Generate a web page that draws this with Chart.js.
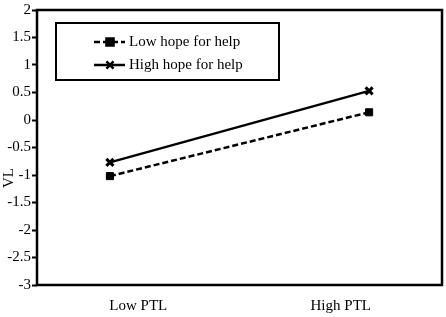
<!DOCTYPE html>
<html lang="en">
<head>
    <meta charset="UTF-8">
    <title>VL by PTL and hope for help</title>
    <script src="https://cdn.jsdelivr.net/npm/chart.js"></script>
    <style>
        html, body {
            margin: 0;
            padding: 0;
            overflow: hidden;
            background: white;
        }
        canvas {
            display: block;
        }
    </style>
</head>
<body>
    <canvas id="vlChart" width="446" height="317"></canvas>

    <script>
        // data
        const categories = ["Low PTL", "High PTL"];
        const lowHope = [-1.02, 0.14];
        const highHope = [-0.77, 0.53];
        const seriesNames = ["Low hope for help", "High hope for help"];
        const yTicks = [2, 1.5, 1, 0.5, 0, -0.5, -1, -1.5, -2, -2.5, -3];

        // markers sit a bit outside the category centres (Excel style)
        const pointShift = 0.14;
        const xPos = i => i === 0 ? i - pointShift : i + pointShift;

        const serif = "'Liberation Serif', 'Times New Roman', serif";

        // frame around the plot area + axis title
        const framePlugin = {
            id: "frame",
            afterDraw(chart) {
                const { ctx, chartArea: a } = chart;
                ctx.save();
                ctx.strokeStyle = "#000";
                ctx.lineWidth = 2.5;
                ctx.strokeRect(a.left, a.top, a.right - a.left, a.bottom - a.top);

                ctx.translate(9, 178);
                ctx.rotate(-Math.PI / 2);
                ctx.font = "15px " + serif;
                ctx.fillStyle = "#000";
                ctx.textAlign = "center";
                ctx.textBaseline = "middle";
                ctx.fillText("VL", 0, 0);
                ctx.restore();
            }
        };

        // boxed legend inside the plot
        const boxLegend = {
            id: "boxLegend",
            afterDraw(chart) {
                const ctx = chart.ctx;
                ctx.save();
                ctx.strokeStyle = "#000";
                ctx.lineWidth = 2;
                ctx.strokeRect(56, 23, 223, 57);
                chart.data.datasets.forEach((ds, i) => {
                    const y = 42 + i * 23;
                    ctx.strokeStyle = "#000";
                    ctx.lineWidth = 2.5;
                    ctx.setLineDash(ds.borderDash || []);
                    ctx.beginPath();
                    ctx.moveTo(94, y);
                    ctx.lineTo(125, y);
                    ctx.stroke();
                    ctx.setLineDash([]);
                    Chart.helpers.drawPoint(ctx, {
                        pointStyle: ds.pointStyle,
                        radius: ds.pointRadius,
                        borderWidth: ds.pointBorderWidth,
                        rotation: 0
                    }, 110, y);
                    if (ds.pointStyle === "rect") {
                        ctx.fillStyle = "#000";
                        ctx.fill();
                    }
                    ctx.fillStyle = "#000";
                    ctx.font = "15px " + serif;
                    ctx.textBaseline = "middle";
                    ctx.fillText(ds.label, 129, y);
                });
                ctx.restore();
            }
        };

        new Chart(document.getElementById("vlChart"), {
            type: "line",
            data: {
                datasets: [{
                    label: seriesNames[0],
                    data: lowHope.map((v, i) => ({ x: xPos(i), y: v })),
                    borderColor: "#000",
                    backgroundColor: "#000",
                    borderWidth: 2.5,
                    borderDash: [6, 3],
                    pointStyle: "rect",
                    pointRadius: 5,
                    pointBorderWidth: 1
                }, {
                    label: seriesNames[1],
                    data: highHope.map((v, i) => ({ x: xPos(i), y: v })),
                    borderColor: "#000",
                    backgroundColor: "#000",
                    borderWidth: 2.5,
                    pointStyle: "crossRot",
                    pointRadius: 5,
                    pointBorderWidth: 3
                }]
            },
            options: {
                responsive: false,
                animation: false,
                layout: {
                    autoPadding: false,
                    padding: { top: 7, right: 4, left: 0, bottom: 0 }
                },
                plugins: {
                    legend: { display: false },
                    tooltip: { enabled: false }
                },
                scales: {
                    x: {
                        type: "linear",
                        min: -0.5,
                        max: categories.length - 0.5,
                        afterBuildTicks: s => { s.ticks = categories.map((c, i) => ({ value: i })); },
                        afterFit: s => { s.height = 32; },
                        ticks: {
                            callback: v => categories[v],
                            color: "#000",
                            font: { family: serif, size: 15 },
                            padding: 4
                        },
                        grid: { display: false },
                        border: { display: false }
                    },
                    y: {
                        min: -3,
                        max: 2,
                        afterBuildTicks: s => { s.ticks = yTicks.map(v => ({ value: v })); },
                        afterFit: s => { s.width = 37; },
                        ticks: {
                            callback: v => String(v),
                            color: "#000",
                            font: { family: serif, size: 15 },
                            padding: 1
                        },
                        grid: {
                            drawOnChartArea: false,
                            tickLength: 5,
                            tickWidth: 2,
                            tickColor: "#000"
                        },
                        border: { display: false }
                    }
                }
            },
            plugins: [framePlugin, boxLegend]
        });
    </script>
</body>
</html>
